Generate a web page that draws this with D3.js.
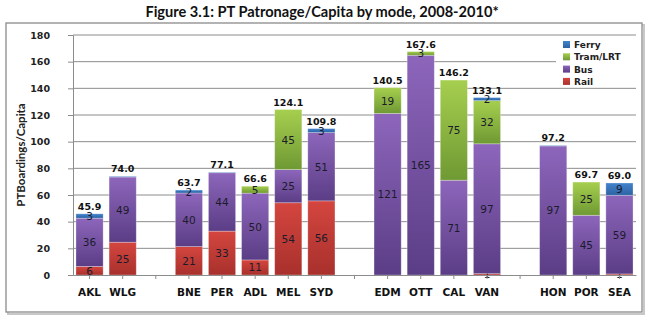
<!DOCTYPE html>
<html>
<head>
<meta charset="utf-8">
<script src="https://cdn.jsdelivr.net/npm/d3@7"></script>
<style>
  body { margin: 0; background: #fff; }
  svg { display: block; }
</style>
</head>
<body>
<script>
// city slots, with blank slots between the country groups
var cities = ["AKL", "WLG", "", "BNE", "PER", "ADL", "MEL", "SYD", " ", "EDM", "OTT", "CAL", "VAN", "  ", "HON", "POR", "SEA"];
var modes = ["Rail", "Bus", "Tram/LRT", "Ferry"];
var rail  = [6.4, 24.6, 0, 21.3, 32.9, 11.3, 54.2, 55.6, 0, 0, 0, 0, 1.0, 0, 0, 0, 0.8];
var bus   = [36.2, 48.9, 0, 40.2, 43.8, 50.1, 24.9, 51.2, 0, 121.2, 164.8, 71.1, 97.4, 0, 96.8, 44.8, 59.0];
var tram  = [0, 0, 0, 0, 0, 5.2, 45.0, 0, 0, 19.3, 2.8, 75.1, 32.4, 0, 0, 24.9, 0];
var ferry = [3.3, 0.5, 0, 2.2, 0.4, 0, 0, 3.0, 0, 0, 0, 0, 2.3, 0, 0.4, 0, 9.2];
var totals = [45.9, 74.0, null, 63.7, 77.1, 66.6, 124.1, 109.8, null, 140.5, 167.6, 146.2, 133.1, null, 97.2, 69.7, 69.0];
var yTicks = [0, 20, 40, 60, 80, 100, 120, 140, 160, 180];

var colours = {
  "Rail":     ["#d4463f", "#a8302c"],
  "Bus":      ["#8d66bb", "#5b3d86"],
  "Tram/LRT": ["#a6cf4f", "#6f9933"],
  "Ferry":    ["#4384cc", "#2c62a3"]
};

var width = 650, height = 322;
var svg = d3.select("body").append("svg")
  .attr("width", width)
  .attr("height", height);

// vertical shading on each mode
var defs = svg.append("defs");
modes.forEach(function(m, i){
  var g = defs.append("linearGradient")
    .attr("id", "grad" + i)
    .attr("x1", 0).attr("y1", 0).attr("x2", 0).attr("y2", 1);
  g.append("stop").attr("offset", "0%").attr("stop-color", colours[m][0]);
  g.append("stop").attr("offset", "100%").attr("stop-color", colours[m][1]);
});

// outer frame
svg.append("rect")
  .attr("x", 8).attr("y", 25).attr("width", 636).attr("height", 289)
  .attr("fill", "none").attr("stroke", "#c8c8c8").attr("stroke-width", 2);
svg.append("rect")
  .attr("x", 6).attr("y", 23).attr("width", 636).attr("height", 289)
  .attr("fill", "#fff").attr("stroke", "#8a8a8a").attr("stroke-width", 1.3);

// title
svg.append("text")
  .attr("x", 322).attr("y", 17)
  .attr("text-anchor", "middle")
  .style("font-family", "Lato, sans-serif")
  .style("font-weight", "bold")
  .style("font-size", "14.6px")
  .attr("fill", "#111")
  .text("Figure 3.1: PT Patronage/Capita by mode, 2008-2010*");

var pad = { left: 73, right: 636, top: 35, bottom: 275 };

var x = d3.scaleBand()
  .domain(cities)
  .range([pad.left, pad.right])
  .paddingInner(0.18)
  .paddingOuter(0.09);

var y = d3.scaleLinear()
  .domain([0, 180])
  .range([pad.bottom, pad.top]);

// gridlines
svg.append("g")
  .selectAll("line")
  .data(yTicks.slice(1))
  .enter().append("line")
  .attr("x1", pad.left).attr("x2", pad.right)
  .attr("y1", function(d){ return y(d); })
  .attr("y2", function(d){ return y(d); })
  .attr("stroke", "#8c8c8c").attr("stroke-width", 1);

// y axis
var yAxis = svg.append("g")
  .attr("transform", "translate(" + pad.left + ",0)")
  .call(d3.axisLeft(y).tickValues(yTicks).tickSize(5).tickPadding(18));
yAxis.select(".domain").attr("stroke", "#8c8c8c");
yAxis.selectAll(".tick line").attr("stroke", "#8c8c8c");
yAxis.selectAll(".tick text")
  .style("font-family", "DejaVu Sans, sans-serif")
  .style("font-weight", "bold")
  .style("font-size", "9.5px")
  .attr("fill", "#222");

// y axis title
svg.append("text")
  .attr("transform", "translate(25," + ((pad.top + pad.bottom) / 2) + ") rotate(-90)")
  .attr("text-anchor", "middle")
  .style("font-family", "Lato, sans-serif")
  .style("font-weight", "bold")
  .style("font-size", "11.5px")
  .attr("fill", "#222")
  .text("PTBoardings/Capita");

// stacked data rows
var rows = cities.map(function(c, i){
  return { city: c, "Rail": rail[i], "Bus": bus[i], "Tram/LRT": tram[i], "Ferry": ferry[i], total: totals[i] };
});
var series = d3.stack().keys(modes)(rows);

var layers = svg.append("g").selectAll("g")
  .data(series)
  .enter().append("g")
  .attr("fill", function(d, i){ return "url(#grad" + i + ")"; });

layers.selectAll("rect")
  .data(function(d){ return d.filter(function(p){ return p[1] - p[0] > 0; }); })
  .enter().append("rect")
  .attr("x", function(d){ return x(d.data.city); })
  .attr("width", x.bandwidth())
  .attr("y", function(d){ return y(d[1]); })
  .attr("height", function(d){ return y(d[0]) - y(d[1]); })
  .attr("stroke", "rgba(255,255,255,0.35)")
  .attr("stroke-width", 0.8);

// segment value labels
layers.selectAll("text")
  .data(function(d){ return d.filter(function(p){ return p[1] - p[0] >= 0.6; }); })
  .enter().append("text")
  .attr("x", function(d){ return x(d.data.city) + x.bandwidth() / 2; })
  .attr("y", function(d){ return y((d[0] + d[1]) / 2) + 4; })
  .attr("text-anchor", "middle")
  .style("font-family", "DejaVu Sans, sans-serif")
  .style("font-size", "10.5px")
  .attr("fill", "#1b1b2b")
  .text(function(d){ return Math.round(d[1] - d[0]); });

// totals above bars
svg.append("g").selectAll("text")
  .data(rows.filter(function(r){ return r.total != null; }))
  .enter().append("text")
  .attr("x", function(d){ return x(d.city) + x.bandwidth() / 2; })
  .attr("y", function(d){ return y(d.total) - 4; })
  .attr("text-anchor", "middle")
  .style("font-family", "DejaVu Sans, sans-serif")
  .style("font-weight", "bold")
  .style("font-size", "9.5px")
  .attr("fill", "#111")
  .text(function(d){ return d.total.toFixed(1); });

// x axis
var xAxis = svg.append("g")
  .attr("transform", "translate(0," + pad.bottom + ")")
  .call(d3.axisBottom(x).tickSize(4).tickSizeOuter(0).tickPadding(10));
xAxis.select(".domain").attr("stroke", "#8c8c8c");
xAxis.selectAll(".tick line").attr("stroke", "#8c8c8c");
xAxis.selectAll(".tick text")
  .style("font-family", "DejaVu Sans, sans-serif")
  .style("font-weight", "bold")
  .style("font-size", "10.5px")
  .attr("fill", "#111");

// legend, on a white patch over the gridlines
var legend = svg.append("g").attr("transform", "translate(556,37)");
legend.append("rect")
  .attr("width", 80).attr("height", 49)
  .attr("fill", "#fff");
var legendItems = modes.slice().reverse();
legend.selectAll("g")
  .data(legendItems)
  .enter().append("g")
  .attr("transform", function(d, i){ return "translate(7," + (4 + i * 12.3) + ")"; })
  .each(function(d){
    var g = d3.select(this);
    g.append("rect")
      .attr("width", 7).attr("height", 7)
      .attr("fill", "url(#grad" + modes.indexOf(d) + ")");
    g.append("text")
      .attr("x", 11).attr("y", 7)
      .style("font-family", "DejaVu Sans, sans-serif")
      .style("font-weight", "bold")
      .style("font-size", "9px")
      .attr("fill", "#222")
      .text(d);
  });
</script>
</body>
</html>
